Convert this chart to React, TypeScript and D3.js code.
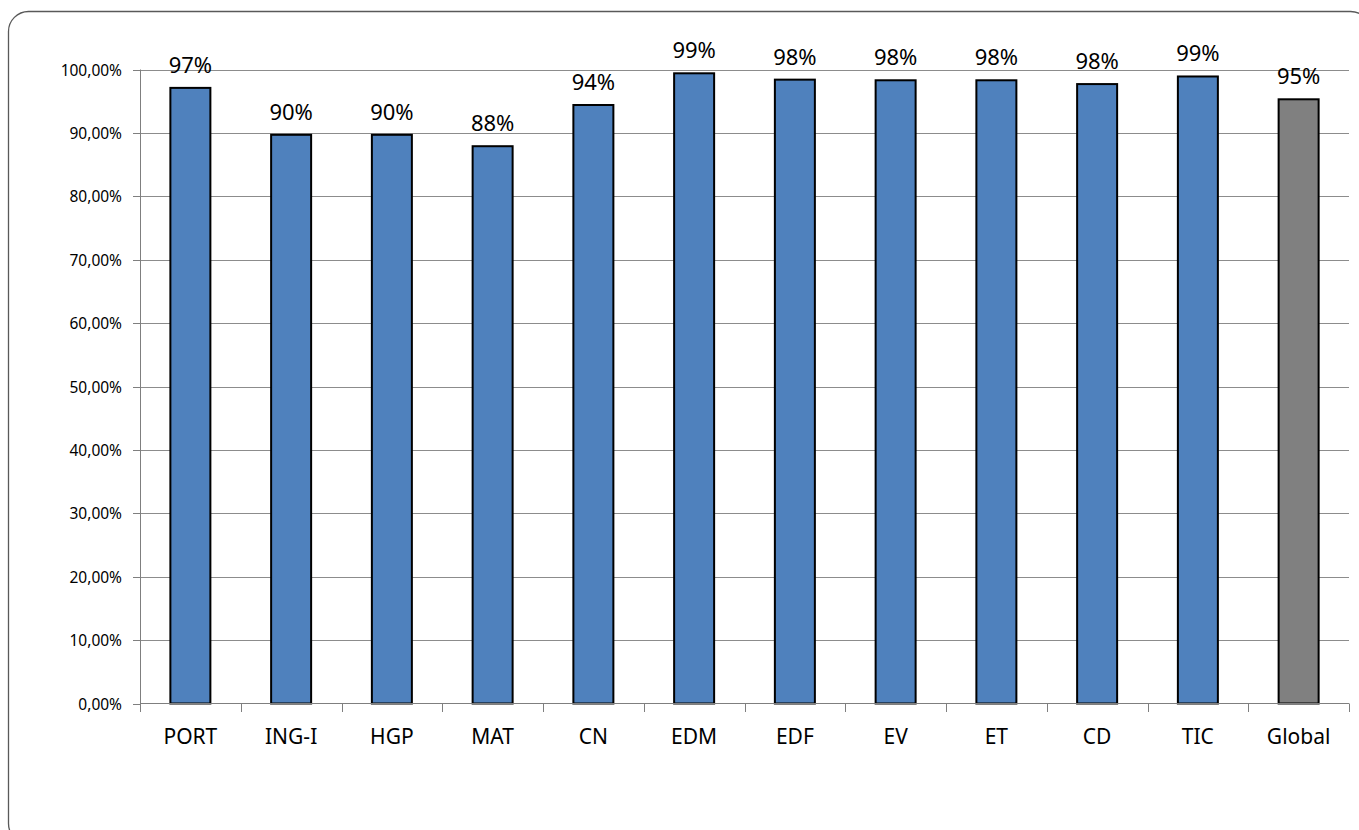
import React from "react";
import * as d3 from "d3";

const categories = ["PORT", "ING-I", "HGP", "MAT", "CN", "EDM", "EDF", "EV", "ET", "CD", "TIC", "Global"];
const values = [97.1, 89.7, 89.7, 87.9, 94.4, 99.4, 98.4, 98.3, 98.3, 97.7, 98.9, 95.3];
const valueLabels = ["97%", "90%", "90%", "88%", "94%", "99%", "98%", "98%", "98%", "98%", "99%", "95%"];
const yTicks = [0, 10, 20, 30, 40, 50, 60, 70, 80, 90, 100];

const W = 1359;
const H = 830;
const left = 140;
const right = 1349;
const top = 69.5;
const bottom = 703.5;

export default function App() {
  const x = d3.scaleBand<string>().domain(categories).range([left, right]).paddingInner(0).paddingOuter(0);
  const y = d3.scaleLinear().domain([0, 100]).range([bottom, top]);
  const bw = 40;
  const font = "'Noto Sans', 'Open Sans', sans-serif";
  const bounds = categories.map((c) => x(c) as number).concat([right]);

  return (
    <svg width={W} height={H} style={{ position: "absolute", left: 0, top: 0 }} fontFamily={font}>
      <rect x={0} y={0} width={W} height={H} fill="#fff" />
      <rect x={8.5} y={11.5} width={1362} height={832} rx={20} ry={20} fill="none" stroke="#595959" strokeWidth={1.3} />
      {yTicks.map((t) => (
        <g key={t}>
          {t > 0 && <line x1={left} x2={right} y1={Math.round(y(t)) + 0.5} y2={Math.round(y(t)) + 0.5} stroke="#8c8c8c" strokeWidth={1} />}
          <line x1={133} x2={left} y1={Math.round(y(t)) + 0.5} y2={Math.round(y(t)) + 0.5} stroke="#7f7f7f" strokeWidth={1} />
          <text x={122} y={y(t) + 6} textAnchor="end" fontSize={15.5} fill="#000">
            {t.toFixed(2).replace(".", ",") + "%"}
          </text>
        </g>
      ))}
      <line x1={left + 0.5} x2={left + 0.5} y1={top} y2={bottom} stroke="#7f7f7f" strokeWidth={1} />
      {categories.map((c, i) => {
        const cx = (x(c) as number) + x.bandwidth() / 2;
        const yt = y(values[i]);
        return (
          <g key={c}>
            <rect
              x={cx - bw / 2}
              y={yt}
              width={bw}
              height={bottom - yt}
              fill={c === "Global" ? "#808080" : "#4f81bd"}
              stroke="#000"
              strokeWidth={2}
            />
            <text x={cx} y={yt - 15} textAnchor="middle" fontSize={22} fill="#000">
              {valueLabels[i]}
            </text>
            <text x={cx} y={744} textAnchor="middle" fontSize={21} fill="#000">
              {c}
            </text>
          </g>
        );
      })}
      <line x1={left} x2={right} y1={bottom} y2={bottom} stroke="#7f7f7f" strokeWidth={1} />
      {bounds.map((b, i) => (
        <line key={i} x1={Math.round(b) + 0.5} x2={Math.round(b) + 0.5} y1={bottom} y2={712} stroke="#7f7f7f" strokeWidth={1} />
      ))}
    </svg>
  );
}
